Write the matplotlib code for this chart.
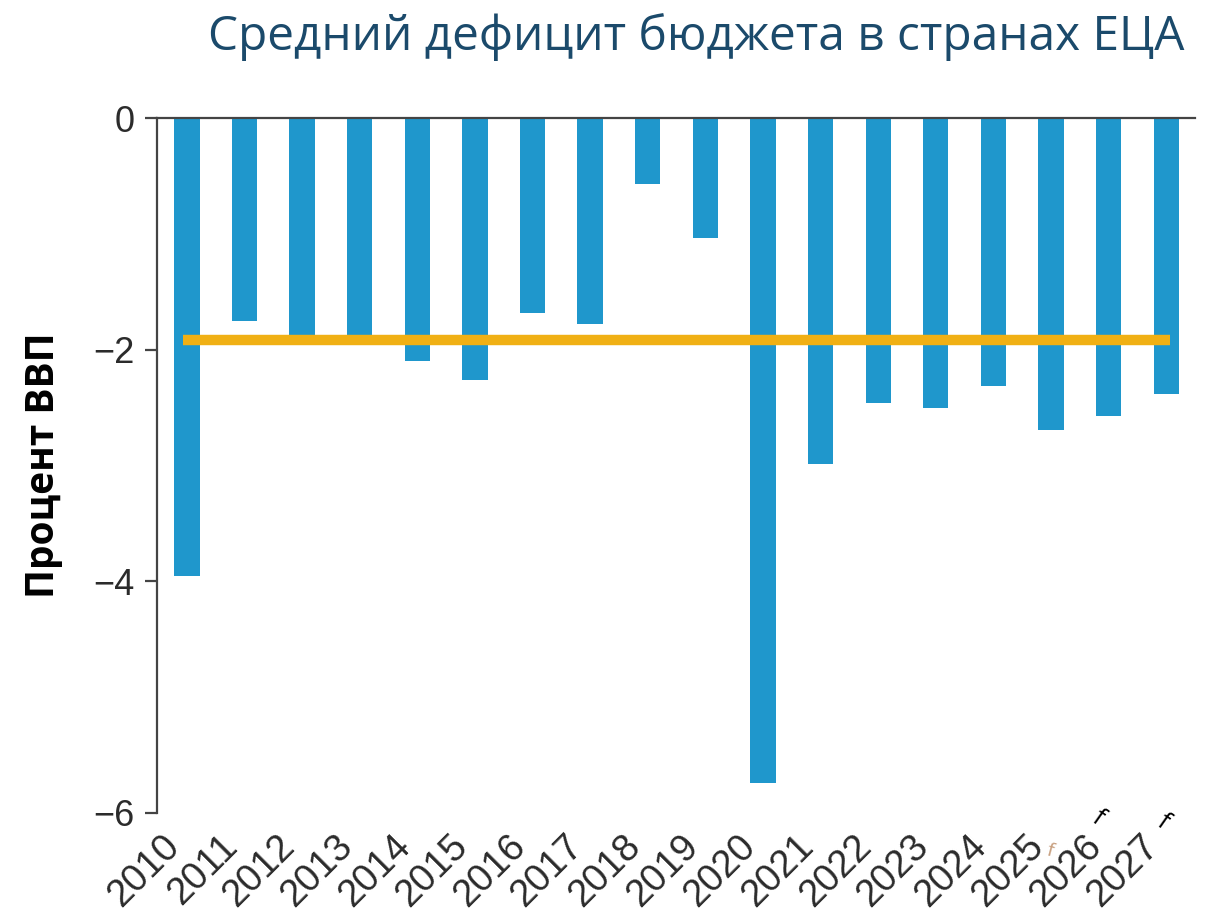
import matplotlib
matplotlib.use("Agg")
import matplotlib.pyplot as plt
import matplotlib.transforms as mtransforms

# данные
years = ['2010', '2011', '2012', '2013', '2014', '2015', '2016', '2017', '2018',
         '2019', '2020', '2021', '2022', '2023', '2024', '2025', '2026', '2027']
deficit = [-3.95, -1.75, -1.87, -1.95, -2.10, -2.26, -1.68, -1.78, -0.57,
           -1.04, -5.74, -2.99, -2.46, -2.50, -2.31, -2.69, -2.57, -2.38]
avg_level = -1.92
forecast = ['2025', '2026', '2027']

plt.rcParams['font.family'] = ['Open Sans', 'DejaVu Sans']

fig = plt.figure(figsize=(12.09, 9.24), dpi=100)
ax = fig.add_axes([157 / 1209, 1 - 813 / 924, (1195 - 157) / 1209, (813 - 118) / 924])

x = list(range(len(years)))
ax.bar(x, deficit, width=0.44, color='#1f97cc', zorder=2)
ax.plot([x[0] - 0.07, x[-1] + 0.07], [avg_level, avg_level], color='#f0b014',
        linewidth=7.5, solid_capstyle='butt', zorder=3)

ax.set_xlim(-0.52, 17.5)
ax.set_ylim(-6, 0)
ax.set_yticks([0, -2, -4, -6])
ax.set_yticklabels(['0', '\u22122', '\u22124', '\u22126'])
ax.set_xticks(x)
ax.set_xticklabels(years, rotation=45, ha='right', rotation_mode='default')
for lab in ax.get_xticklabels() + ax.get_yticklabels():
    lab.set_fontfamily(['Liberation Sans', 'DejaVu Sans'])

for s in ['right', 'bottom']:
    ax.spines[s].set_visible(False)
ax.spines['top'].set_color('#444444')
ax.spines['top'].set_linewidth(1.6)
ax.spines['left'].set_color('#444444')
ax.spines['left'].set_linewidth(1.6)

ax.tick_params(axis='y', length=9, width=1.6, color='#444444', labelsize=26,
               labelcolor='#2b2b2b', pad=7)
ax.tick_params(axis='x', length=0, labelsize=27.5, labelcolor='#2b2b2b', pad=11)

# пометки прогноза
trans = mtransforms.blended_transform_factory(ax.transData, ax.transAxes)
for yr in forecast:
    i = years.index(yr)
    if yr == '2025':
        ax.text(i - 0.02, -0.055, 'f', transform=trans, fontsize=14, color='#c8a080',
                rotation=-15, ha='center', va='center', clip_on=False)
    elif yr == '2026':
        ax.text(i - 0.19, -0.007, 'f', transform=trans, fontsize=18, color='black',
                rotation=-35, ha='center', va='center', clip_on=False)
    else:
        ax.text(i - 0.05, -0.013, 'f', transform=trans, fontsize=18, color='black',
                rotation=-35, ha='center', va='center', clip_on=False)

ax.set_ylabel('Процент ВВП', fontsize=28, fontweight='bold', color='black', labelpad=22)

fig.text(1185 / 1209, 1 - 50 / 924, 'Средний дефицит бюджета в странах ЕЦА',
         ha='right', va='baseline', fontsize=34.4, color='#1b4a6b')

fig.savefig('out.png', dpi=100)
